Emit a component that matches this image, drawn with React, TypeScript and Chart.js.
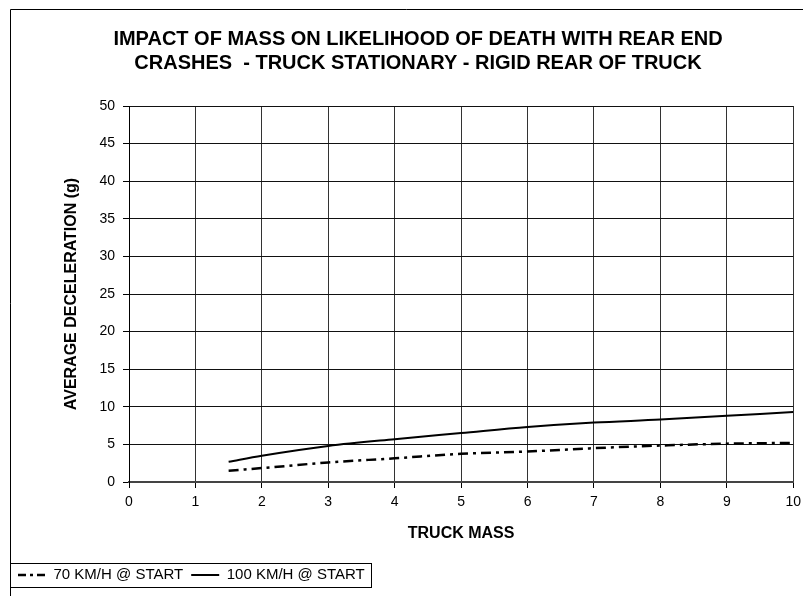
import React, { useEffect, useRef } from "react";
import { Chart, registerables } from "chart.js";

Chart.register(...registerables);

const truckMass = [1.5, 2, 3, 4, 5, 6, 7, 8, 9, 10];
const decel70 = [1.5, 1.85, 2.6, 3.15, 3.75, 4.05, 4.5, 4.85, 5.1, 5.2];
const decel100 = [2.7, 3.5, 4.8, 5.7, 6.5, 7.3, 7.9, 8.3, 8.8, 9.3];
const seriesLabels = ["70 KM/H @ START", "100 KM/H @ START"];
const titleLines = [
  "IMPACT OF MASS ON LIKELIHOOD OF DEATH WITH REAR END",
  "CRASHES  - TRUCK STATIONARY - RIGID REAR OF TRUCK",
];
const xAxisTitle = "TRUCK MASS";
const yAxisTitle = "AVERAGE DECELERATION (g)";

const FONT = "'Liberation Sans', Arial, sans-serif";

const framePlugin = {
  id: "framePlugin",
  afterLayout(chart: any) {
    const tb = chart.titleBlock;
    if (tb) {
      const center = 418;
      tb.left = 2 * center - tb.right;
      tb.width = tb.right - tb.left;
    }
  },
  beforeDraw(chart: any) {
    const ctx = chart.ctx;
    ctx.save();
    ctx.strokeStyle = "#000";
    ctx.lineWidth = 1;
    ctx.beginPath();
    ctx.moveTo(10.5, 600);
    ctx.lineTo(10.5, 9.5);
    ctx.lineTo(803, 9.5);
    ctx.stroke();
    ctx.restore();
  },
  afterDraw(chart: any) {
    const lg = chart.legend;
    if (!lg || !lg.legendHitBoxes || !lg.legendHitBoxes.length) return;
    const hbs = lg.legendHitBoxes;
    const last = hbs[hbs.length - 1];
    const cy = hbs[0].top + hbs[0].height / 2;
    const x0 = 10.5;
    const x1 = Math.round(last.left + last.width + 6) + 0.5;
    const y0 = Math.round(cy - 12) + 0.5;
    const y1 = Math.round(cy + 12) + 0.5;
    const ctx = chart.ctx;
    ctx.save();
    ctx.strokeStyle = "#000";
    ctx.lineWidth = 1;
    ctx.setLineDash([]);
    ctx.strokeRect(x0, y0, x1 - x0, y1 - y0);
    ctx.restore();
  },
};

export default function App() {
  const ref = useRef<HTMLCanvasElement | null>(null);

  useEffect(() => {
    if (!ref.current) return;
    const chart = new Chart(ref.current, {
      type: "line",
      data: {
        datasets: [
          {
            label: seriesLabels[0],
            data: truckMass.map((m, i) => ({ x: m, y: decel70[i] })),
            borderColor: "#000",
            backgroundColor: "#000",
            borderWidth: 2.5,
            borderDash: [10, 5, 3, 5],
            pointRadius: 0,
            tension: 0.3,
            cubicInterpolationMode: "monotone",
          },
          {
            label: seriesLabels[1],
            data: truckMass.map((m, i) => ({ x: m, y: decel100[i] })),
            borderColor: "#000",
            backgroundColor: "#000",
            borderWidth: 2,
            pointRadius: 0,
            tension: 0.3,
            cubicInterpolationMode: "monotone",
          },
        ],
      },
      options: {
        responsive: false,
        animation: false,
        devicePixelRatio: 1,
        layout: { padding: { left: 10, right: 13, top: 9, bottom: 3.5 } },
        plugins: {
          title: {
            display: true,
            text: titleLines,
            color: "#000",
            font: { family: FONT, size: 20, weight: "bold", lineHeight: 1.2 },
            padding: { top: 18, bottom: 31 },
          },
          legend: {
            display: true,
            position: "bottom",
            align: "start",
            labels: {
              usePointStyle: true,
              pointStyle: "line",
              pointStyleWidth: 28,
              padding: 8,
              color: "#000",
              font: { family: FONT, size: 15 },
              generateLabels: (c: any) => {
                const items = (Chart.defaults as any).plugins.legend.labels.generateLabels(c);
                items.forEach((it: any) => {
                  const ds = c.data.datasets[it.datasetIndex];
                  it.lineDash = ds.borderDash ? [8, 4, 3, 4] : [];
                  it.lineWidth = ds.borderWidth;
                  it.strokeStyle = "#000";
                  it.fillStyle = "#000";
                  it.pointStyle = "line";
                });
                return items;
              },
            },
          },
          tooltip: { enabled: false },
        },
        scales: {
          x: {
            type: "linear",
            min: 0,
            max: 10,
            afterFit: (s: any) => {
              s.height = 77.5;
            },
            ticks: {
              stepSize: 1,
              color: "#000",
              padding: 6,
              font: { family: FONT, size: 14 },
            },
            grid: { color: "#333", lineWidth: 1, tickLength: 6, tickColor: "#000" },
            border: { color: "#444", width: 2 },
            title: {
              display: true,
              text: xAxisTitle,
              color: "#000",
              font: { family: FONT, size: 16, weight: "bold", lineHeight: 1.2 },
              padding: { top: 0, bottom: 16 },
            },
          },
          y: {
            type: "linear",
            min: 0,
            max: 50,
            afterFit: (s: any) => {
              s.width = 119;
            },
            ticks: {
              stepSize: 5,
              color: "#000",
              padding: 8,
              font: { family: FONT, size: 14 },
            },
            grid: { color: "#111", lineWidth: 1, tickLength: 6, tickColor: "#000" },
            border: { color: "#000", width: 1 },
            title: {
              display: true,
              text: yAxisTitle,
              color: "#000",
              font: { family: FONT, size: 16, weight: "bold", lineHeight: 1.2 },
              padding: { top: 52, bottom: 0 },
            },
          },
        },
      },
      plugins: [framePlugin],
    } as any);
    return () => chart.destroy();
  }, []);

  return (
    <div
      style={{
        position: "fixed",
        left: 0,
        top: 0,
        width: 807,
        height: 596,
        overflow: "hidden",
        background: "#fff",
      }}
    >
      <canvas ref={ref} width={807} height={596} style={{ width: 807, height: 596, display: "block" }} />
    </div>
  );
}
